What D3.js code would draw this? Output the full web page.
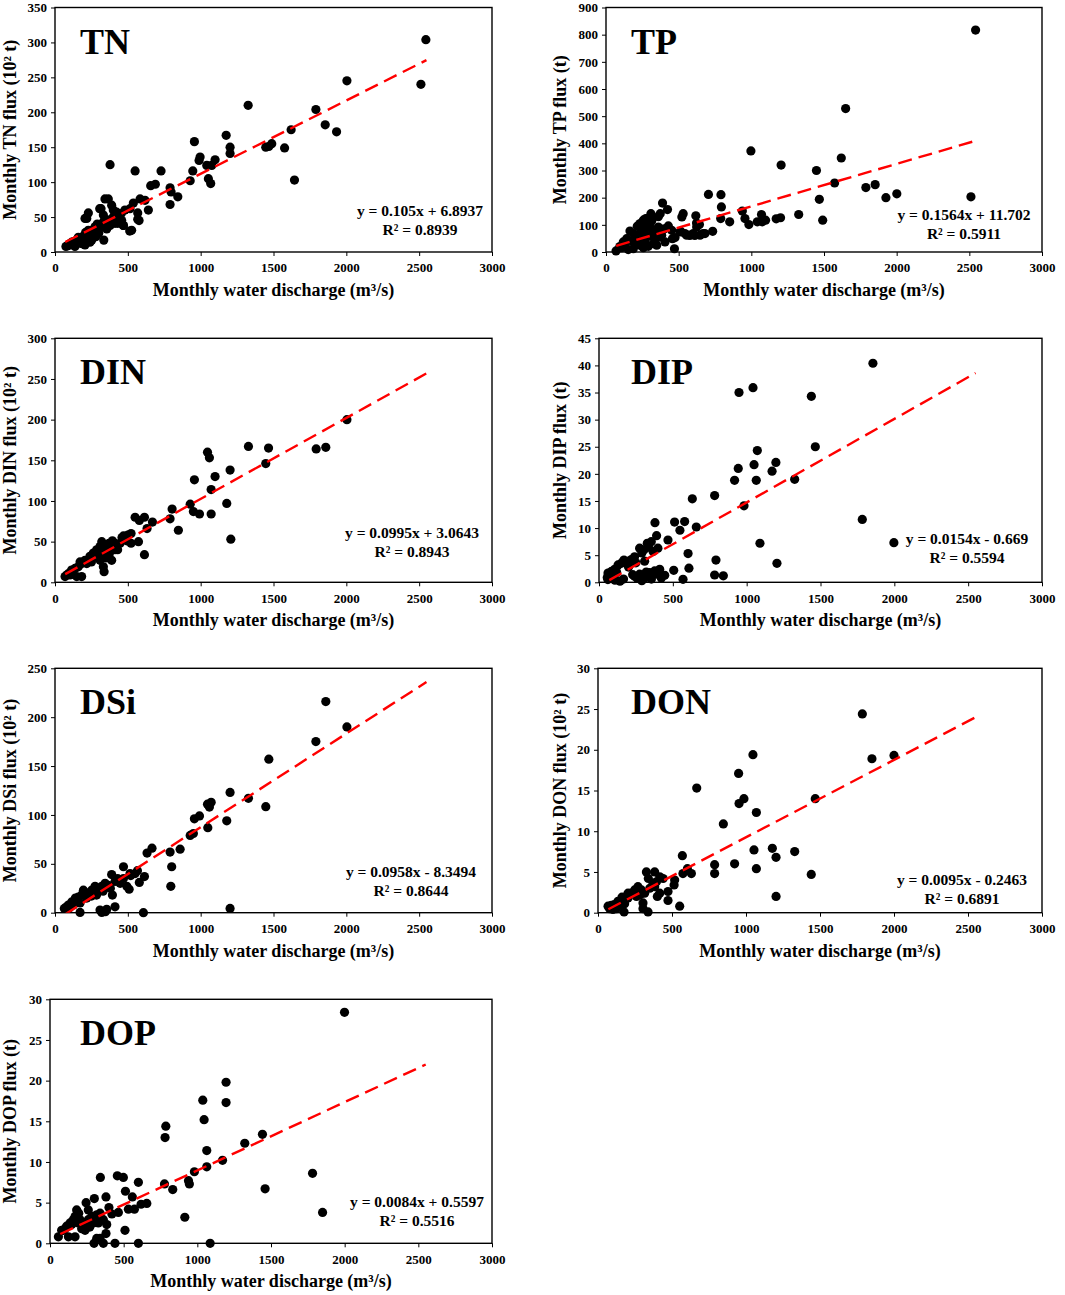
<!DOCTYPE html>
<html>
<head>
<meta charset="utf-8">
<script src="https://cdn.jsdelivr.net/npm/d3@7"></script>
<style>
  body { margin: 0; background: #fff; }
  text { font-family: "Liberation Serif", "Times New Roman", serif; font-weight: bold; fill: #000; }
</style>
</head>
<body>
<div id="chart-area"></div>
<script>
// monthly water discharge (m3/s) vs flux, one array of [x, y] per panel
const tnPts = [[75,8],[90,9],[103,12],[110,11],[115,14],[126,10],[130,15],[137,8],[140,16],[149,12],[160,21],[165,18],
  [170,13],[172,14],[183,12],[190,22],[194,19],[200,17],[206,10],[206,48],[210,28],[218,26],[218,48],[229,31],[229,56],
  [230,20],[240,14],[245,28],[252,17],[252,31],[263,24],[270,29],[275,36],[280,22],[286,31],[290,40],[300,33],[300,27],
  [307,62],[309,38],[316,62],[320,36],[332,43],[332,53],[335,17],[343,76],[345,40],[355,33],[360,46],[366,76],[378,38],
  [378,125],[389,45],[389,67],[400,60],[400,50],[412,41],[423,57],[423,45],[430,52],[431,41],[447,45],[455,55],[458,45],
  [469,38],[470,38],[480,60],[513,30],[515,62],[526,31],[538,70],[550,116],[568,56],[568,47],[577,45],[584,76],[618,74],
  [641,60],[657,95],[689,97],[728,116],[790,92],[797,86],[790,68],[843,79],[928,102],[946,116],[957,158],[989,131],
  [996,136],[1042,124],[1053,105],[1069,98],[1076,124],[1099,132],[1175,167],[1202,150],[1202,141],[1326,210],
  [1447,150],[1468,151],[1488,155],[1576,149],[1621,175],[1644,103],[1791,204],[1855,182],[1933,172],[2004,245],
  [2512,240],[2546,304]];

const tpPts = [[69,4],[95,20],[108,16],[119,37],[130,25],[142,49],[153,9],[165,77],[180,40],[188,68],[188,12],[200,30],
  [211,43],[215,95],[220,60],[234,25],[234,105],[240,75],[250,55],[257,16],[257,117],[263,80],[270,45],[274,123],
  [280,95],[284,123],[291,21],[300,60],[303,105],[309,141],[315,115],[320,80],[325,31],[337,74],[340,50],[349,25],
  [360,92],[360,130],[370,55],[373,141],[383,62],[389,180],[400,85],[406,37],[423,156],[429,96],[452,80],[457,49],
  [471,12],[475,53],[509,74],[513,76],[522,129],[531,141],[543,68],[555,62],[577,61],[600,68],[611,61],[618,133],
  [623,107],[624,92],[643,101],[647,62],[668,68],[681,68],[705,212],[734,76],[789,123],[791,211],[794,166],[851,111],
  [938,151],[956,123],[983,101],[997,372],[1041,111],[1070,138],[1075,111],[1098,117],[1171,122],[1201,126],
  [1205,320],[1326,138],[1448,300],[1468,194],[1491,117],[1573,254],[1619,346],[1649,528],[1788,237],[1852,248],
  [1926,200],[2001,214],[2511,203],[2543,817]];

const dinPts = [[69,7],[80,9],[95,11],[103,9],[114,15],[120,12],[137,17],[149,7],[160,19],[172,25],[183,23],[183,7],
  [206,27],[218,23],[240,32],[250,25],[263,36],[275,32],[286,40],[298,38],[300,30],[309,44],[309,27],[321,50],[332,19],
  [337,38],[337,13],[344,32],[350,30],[355,44],[371,48],[373,35],[380,42],[389,27],[394,51],[412,48],[412,40],[424,44],
  [430,40],[447,48],[460,55],[470,57],[493,51],[500,58],[522,60],[522,48],[550,80],[573,50],[579,76],[614,80],[614,34],
  [632,66],[669,74],[790,78],[804,90],[847,64],[928,96],[950,87],[957,126],[992,84],[1047,160],[1060,153],[1072,114],
  [1072,84],[1099,130],[1179,97],[1202,138],[1207,53],[1328,167],[1447,146],[1466,165],[1793,164],[1859,166],[2004,200]];

const dipPts = [[56,0.9],[60,0.5],[61,1.7],[74,0.8],[84,2],[95,1.2],[106,2.4],[108,0.4],[120,1.8],[129,3.2],[142,0.2],
  [151,3.5],[163,3.8],[166,0.6],[169,4.1],[185,3.5],[196,3.8],[200,2.8],[219,4.2],[228,1.4],[241,4.7],[241,1.1],
  [250,3.6],[260,0.7],[275,6.3],[275,1.5],[287,6],[290,5.4],[290,0.3],[305,6],[309,3.9],[309,0.8],[320,1.9],[327,7.2],
  [335,6.5],[343,1.8],[354,7.5],[355,0.6],[366,5.7],[377,2.1],[379,11],[390,8.6],[395,1.5],[399,6.3],[411,2.4],
  [422,0.8],[445,1.3],[467,7.8],[506,2.2],[512,11.1],[548,9.6],[569,0.55],[580,11.2],[603,5.3],[609,2.6],[632,15.4],
  [659,10.2],[783,16],[783,1.35],[792,4.1],[842,1.2],[918,18.8],[943,21],[948,35],[982,14.1],[1043,35.9],[1050,21.7],
  [1065,18.8],[1072,24.3],[1090,7.2],[1172,20.5],[1198,22.1],[1205,3.5],[1325,19],[1438,34.3],[1465,25],[1783,11.6],
  [1855,40.4],[1997,7.3]];

const dsiPts = [[64,4.4],[80,6],[92,7.8],[100,5],[115,11],[126,8],[137,13],[140,15],[160,16],[172,10],[172,0.3],
  [183,18],[195,23],[206,20],[218,15],[229,20],[250,17],[252,23],[275,27],[285,18],[298,23],[309,2.7],[321,27],
  [321,0.3],[330,22],[344,30],[346,1],[355,3.4],[366,28],[380,25],[389,39],[394,18],[412,32],[412,6],[430,35],[447,30],
  [470,47],[470,35],[493,27],[509,24],[515,40],[520,38],[550,40],[566,43],[579,31],[607,0],[614,37],[632,61],[666,66],
  [790,62],[795,27],[801,47],[859,65],[928,79],[950,81],[957,96],[992,99],[1047,111],[1049,87],[1060,108],[1072,113],
  [1179,94],[1202,123],[1202,4.4],[1328,117],[1447,108.5],[1468,157],[1791,175],[1859,216],[2004,190]];

const donPts = [[68,0.8],[79,0.5],[90,0.9],[101,0.4],[110,1],[124,0.5],[135,1.4],[146,0.9],[150,1.2],[162,1.9],
  [169,1.6],[176,0.1],[180,1.1],[191,2],[203,1.8],[203,2.4],[225,2.4],[248,2.8],[260,2],[270,3.2],[285,2.2],[293,2.8],
  [304,0.5],[304,1.2],[315,2.4],[327,5],[338,0.1],[340,4.2],[350,3],[372,3.6],[383,5],[383,3.2],[395,3.8],[401,2],
  [417,2.4],[417,4.4],[440,4.2],[473,2.6],[473,1.5],[514,3.4],[518,4],[552,0.8],[570,7],[574,4.8],[604,5.4],[631,4.8],
  [667,15.3],[788,5.9],[788,4.8],[847,10.9],[923,6],[950,17.1],[953,13.4],[986,14],[1047,19.4],[1054,7.7],[1070,12.3],
  [1070,5.4],[1178,7.9],[1203,6.8],[1203,2],[1329,7.5],[1441,4.7],[1468,14],[1786,24.4],[1851,18.9],[2000,19.3]];

const dopPts = [[57,0.8],[79,1.6],[91,1.6],[102,1.8],[113,2.1],[125,0.8],[136,2.5],[147,2.3],[158,2.9],[170,3.3],
  [170,0.8],[181,4.1],[181,3.3],[192,2.5],[195,3.7],[204,2.9],[215,1.8],[230,2.2],[238,1.6],[245,5],[260,4.1],[260,2.9],
  [270,2],[283,3.3],[294,2.5],[299,0],[301,5.5],[317,3.5],[317,0.6],[328,2.5],[340,3.7],[340,0.6],[342,8.1],[350,3],
  [362,2.9],[362,0],[380,5.7],[380,1.2],[385,2.3],[400,4.4],[420,3.6],[441,0],[457,8.3],[464,3.8],[498,8.1],[509,1.6],
  [512,6.4],[532,4.2],[559,5.7],[573,4.2],[600,7.5],[600,0],[618,4.8],[657,4.9],[777,7.3],[781,13],[786,14.4],[833,6.6],
  [915,3.2],[940,7.7],[946,7.3],[980,8.8],[1037,17.6],[1046,15.2],[1064,11.4],[1064,9.4],[1087,0],[1171,10.2],
  [1195,19.8],[1195,17.3],[1322,12.3],[1442,13.4],[1460,6.7],[1782,8.6],[1850,3.8],[1999,28.4]];

const names = ["TN", "TP", "DIN", "DIP", "DSi", "DON", "DOP"];
const points = [tnPts, tpPts, dinPts, dipPts, dsiPts, donPts, dopPts];
const yTitles = ["Monthly TN flux (10² t)", "Monthly TP flux (t)", "Monthly DIN flux (10² t)", "Monthly DIP flux (t)",
  "Monthly DSi flux (10² t)", "Monthly DON flux (10² t)", "Monthly DOP flux (t)"];
const yMaxes = [350, 900, 300, 45, 250, 30, 30];
const yTicks = [
  [0, 50, 100, 150, 200, 250, 300, 350],
  [0, 100, 200, 300, 400, 500, 600, 700, 800, 900],
  [0, 50, 100, 150, 200, 250, 300],
  [0, 5, 10, 15, 20, 25, 30, 35, 40, 45],
  [0, 50, 100, 150, 200, 250],
  [0, 5, 10, 15, 20, 25, 30],
  [0, 5, 10, 15, 20, 25, 30]
];
const xTicks = [0, 500, 1000, 1500, 2000, 2500, 3000];
const slopes = [0.105, 0.1564, 0.0995, 0.0154, 0.0958, 0.0095, 0.0084];
const intercepts = [6.8937, 11.702, 3.0643, -0.669, -8.3494, -0.2463, 0.5597];
const eqTexts = ["y = 0.105x + 6.8937", "y = 0.1564x + 11.702", "y = 0.0995x + 3.0643", "y = 0.0154x - 0.669",
  "y = 0.0958x - 8.3494", "y = 0.0095x - 0.2463", "y = 0.0084x + 0.5597"];
const r2Texts = ["R² = 0.8939", "R² = 0.5911", "R² = 0.8943", "R² = 0.5594", "R² = 0.8644", "R² = 0.6891", "R² = 0.5516"];
const fitRange = [70, 2550];

// plot boxes in page pixels
const layout = [
  {l: 55, t: 7.5, r: 492, b: 252, eqX: 420, eqY: 216},
  {l: 606, t: 7.5, r: 1042, b: 252, eqX: 964, eqY: 220},
  {l: 55, t: 338.3, r: 492, b: 582.3, eqX: 412, eqY: 538},
  {l: 599, t: 338.3, r: 1042, b: 582.3, eqX: 967, eqY: 544},
  {l: 55, t: 668.3, r: 492, b: 912.7, eqX: 411, eqY: 877},
  {l: 598, t: 668.3, r: 1042, b: 912.7, eqX: 962, eqY: 885},
  {l: 50, t: 999.3, r: 492, b: 1243.3, eqX: 417, eqY: 1207}
];
const labelX = [80, 631];
const yTitleX = [16, 566];

const svg = d3.select("#chart-area")
    .append("svg")
    .attr("width", 1065)
    .attr("height", 1295);

const tickFmt = d3.format("d");

names.forEach((name, i) => {
    const L = layout[i];
    const col = i % 2;
    const x = d3.scaleLinear().domain([0, 3000]).range([L.l, L.r]);
    const y = d3.scaleLinear().domain([0, yMaxes[i]]).range([L.b, L.t]);
    const g = svg.append("g");

    g.append("clipPath")
        .attr("id", "clip" + i)
        .append("rect")
        .attr("x", L.l).attr("y", L.t)
        .attr("width", L.r - L.l).attr("height", L.b - L.t);

    // axes
    g.append("g")
        .attr("transform", `translate(0,${L.b})`)
        .call(d3.axisBottom(x).tickValues(xTicks).tickFormat(tickFmt).tickSizeInner(4).tickSizeOuter(0).tickPadding(7))
        .call(a => a.select(".domain").remove())
        .call(a => a.selectAll("text").style("font-size", "13px"));

    g.append("g")
        .attr("transform", `translate(${L.l},0)`)
        .call(d3.axisLeft(y).tickValues(yTicks[i]).tickFormat(tickFmt).tickSizeInner(4).tickSizeOuter(0).tickPadding(4))
        .call(a => a.select(".domain").remove())
        .call(a => a.selectAll("text").style("font-size", "13px"));

    g.append("rect")
        .attr("x", L.l).attr("y", L.t)
        .attr("width", L.r - L.l).attr("height", L.b - L.t)
        .attr("fill", "none")
        .attr("stroke", "#000")
        .attr("stroke-width", 1.4);

    // points
    g.append("g")
        .selectAll("circle")
        .data(points[i])
        .join("circle")
        .attr("cx", d => x(d[0]))
        .attr("cy", d => y(d[1]))
        .attr("r", 4.6)
        .attr("fill", "#000");

    // linear fit
    const line = d3.line().x(d => x(d)).y(d => y(slopes[i] * d + intercepts[i]));
    g.append("path")
        .attr("d", line(fitRange))
        .attr("clip-path", `url(#clip${i})`)
        .attr("fill", "none")
        .attr("stroke", "#ff0000")
        .attr("stroke-width", 2.4)
        .attr("stroke-dasharray", "14,7");

    g.append("text")
        .attr("x", labelX[col])
        .attr("y", L.t + 46)
        .style("font-size", "36px")
        .text(name);

    g.append("text")
        .attr("x", L.eqX).attr("y", L.eqY)
        .attr("text-anchor", "middle")
        .style("font-size", "15.5px")
        .text(eqTexts[i]);

    g.append("text")
        .attr("x", L.eqX).attr("y", L.eqY + 18.5)
        .attr("text-anchor", "middle")
        .style("font-size", "15.5px")
        .text(r2Texts[i]);

    g.append("text")
        .attr("x", (L.l + L.r) / 2)
        .attr("y", L.b + 44)
        .attr("text-anchor", "middle")
        .style("font-size", "18px")
        .text("Monthly water discharge (m³/s)");

    g.append("text")
        .attr("transform", `translate(${yTitleX[col]},${(L.t + L.b) / 2}) rotate(-90)`)
        .attr("text-anchor", "middle")
        .style("font-size", "18px")
        .text(yTitles[i]);
});
</script>
</body>
</html>
